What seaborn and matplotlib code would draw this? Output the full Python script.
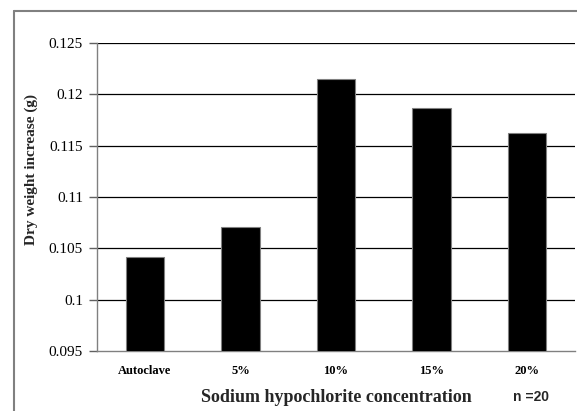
import numpy as np
import pandas as pd
import matplotlib
matplotlib.use('Agg')
import matplotlib.pyplot as plt
import seaborn as sns
from matplotlib.lines import Line2D

# data
categories = ['Autoclave', '5%', '10%', '15%', '20%']
dry_weight = [0.1042, 0.1071, 0.1215, 0.1187, 0.1162]
y_ticks = [0.095, 0.1, 0.105, 0.11, 0.115, 0.12, 0.125]
y_tick_labels = ['0.095', '0.1', '0.105', '0.11', '0.115', '0.12', '0.125']

df = pd.DataFrame({'concentration': categories, 'weight': dry_weight})

sns.set_theme(style='white')
plt.rcParams['font.family'] = ['Liberation Serif', 'DejaVu Serif']

W, H = 577, 411
fig = plt.figure(figsize=(W / 100, H / 100), dpi=100)
ax = fig.add_axes([97 / W, 1 - 351 / H, (575 - 97) / W, (351 - 43) / H])

sns.barplot(data=df, x='concentration', y='weight', color='black',
            edgecolor='#808080', linewidth=0.8, width=0.4,
            saturation=1, ax=ax, zorder=3)

ax.set_ylim(0.095, 0.125)
ax.set_xlim(-0.5, len(categories) - 0.5)
ax.set_yticks(y_ticks)
ax.set_yticklabels(y_tick_labels, fontsize=11, family='Liberation Serif')
ax.set_xticklabels(categories, fontsize=9, fontweight='bold',
                   family='Liberation Serif')
for t in y_ticks[1:]:
    ax.axhline(t, color='black', lw=0.9, zorder=1)

ax.set_xlabel('')
ax.set_ylabel('')
for side in ['top', 'right']:
    ax.spines[side].set_visible(False)
ax.spines['left'].set_color('#808080')
ax.spines['bottom'].set_color('#808080')
ax.spines['left'].set_linewidth(1.0)
ax.spines['bottom'].set_linewidth(1.0)
ax.tick_params(axis='y', which='both', left=True, length=6, width=1,
               color='#606060', pad=4, labelcolor='black')
ax.tick_params(axis='x', bottom=False, length=0, pad=10, labelcolor='black')

fig.text(31 / W, 1 - 169 / H, 'Dry weight increase (g)', rotation=90,
         fontsize=11, fontweight='bold', ha='center', va='center')
fig.text(336 / W, 1 - 397 / H, 'Sodium hypochlorite concentration',
         fontsize=13, fontweight='bold', ha='center', va='center')
fig.text(531 / W, 1 - 397 / H, 'n =20', fontsize=10, fontweight='bold',
         family='Liberation Sans', ha='center', va='center')

# outer chart frame (left and top edges visible)
fig.add_artist(Line2D([14 / W, 14 / W], [0, 1 - 11 / H], color='#808080',
                      lw=1.5, transform=fig.transFigure))
fig.add_artist(Line2D([14 / W, 1], [1 - 11 / H, 1 - 11 / H], color='#808080',
                      lw=1.5, transform=fig.transFigure))

fig.savefig('out.png', dpi=100)
